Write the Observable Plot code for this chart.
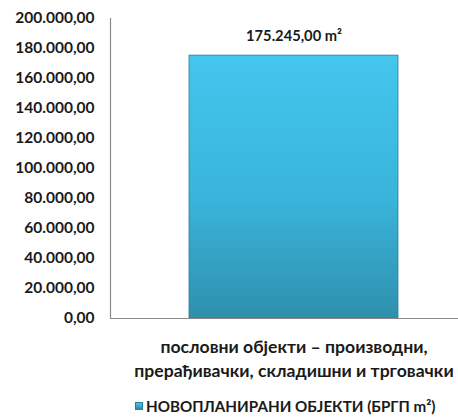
<!DOCTYPE html>
<html>
<head>
<meta charset="utf-8">
<script src="https://cdn.jsdelivr.net/npm/d3@7"></script>
<script src="https://cdn.jsdelivr.net/npm/@observablehq/plot@0.6"></script>
<style>
  html, body { margin: 0; padding: 0; background: #fff; }
  body { width: 458px; height: 418px; overflow: hidden; position: relative; font-family: Lato, "Open Sans", sans-serif; }
  #legend { position: absolute; left: 135px; top: 396px; font-weight: 700; font-size: 15.2px; line-height: 20px; color: #1a1a1a; display: flex; align-items: center; white-space: nowrap; }
  #legend .sw { width: 8px; height: 8px; margin-right: 3px; background: linear-gradient(#48c8ee, #2e8ca8); border: 1px solid #2a7f99; box-sizing: border-box; }
</style>
</head>
<body>
<div id="chart"></div>
<div id="legend"></div>
<script>
const categories = ["пословни објекти – производни,\nпрерађивачки, складишни и трговачки"];
const values = [175245];
const seriesName = "НОВОПЛАНИРАНИ ОБЈЕКТИ (БРГП m²)";
const yTicks = [0, 20000, 40000, 60000, 80000, 100000, 120000, 140000, 160000, 180000, 200000];

const locale = d3.formatLocale({decimal: ",", thousands: ".", grouping: [3], currency: ["", ""]});
const fmt = locale.format(",.2f");

const data = categories.map((c, i) => ({category: c, value: values[i]}));

const chart = Plot.plot({
  width: 458,
  height: 392,
  marginLeft: 110,
  marginRight: 0,
  marginTop: 18,
  marginBottom: 74,
  style: {fontFamily: "Lato, 'Open Sans', sans-serif", color: "#1a1a1a", background: "#fff", overflow: "visible"},
  x: {domain: categories, range: [189, 398], padding: 0},
  y: {domain: [0, 200000]},
  marks: [
    Plot.barY(data, {x: "category", y: "value", fill: "url(#barGrad)", stroke: "#2a7f99", strokeWidth: 0.8}),
    Plot.text(data, {x: "category", y: "value", text: d => fmt(d.value) + " m²", dy: -19, fontSize: 14.7, fontWeight: 700, fill: "#1a1a1a"}),
    Plot.ruleY([0], {stroke: "#8a8a8a", strokeWidth: 1.2}),
    Plot.frame({anchor: "left", stroke: "#8a8a8a", strokeWidth: 1.2}),
    Plot.axisY({ticks: yTicks, tickFormat: fmt, tickSize: 0, tickPadding: 16, fontSize: 15.5, fontWeight: 700, label: null}),
    Plot.axisX({tickSize: 0, tickPadding: 17, fontSize: 17.6, fontWeight: 700, lineHeight: 1.38, label: null})
  ]
});

const defs = d3.select(chart).insert("defs", ":first-child");
const g = defs.append("linearGradient").attr("id", "barGrad").attr("x1", 0).attr("y1", 0).attr("x2", 0).attr("y2", 1);
g.append("stop").attr("offset", "0%").attr("stop-color", "#44c6ee");
g.append("stop").attr("offset", "55%").attr("stop-color", "#39b4da");
g.append("stop").attr("offset", "100%").attr("stop-color", "#2f90ad");

document.getElementById("chart").appendChild(chart);
document.getElementById("legend").innerHTML = '<span class="sw"></span><span>' + seriesName + '</span>';
</script>
</body>
</html>
